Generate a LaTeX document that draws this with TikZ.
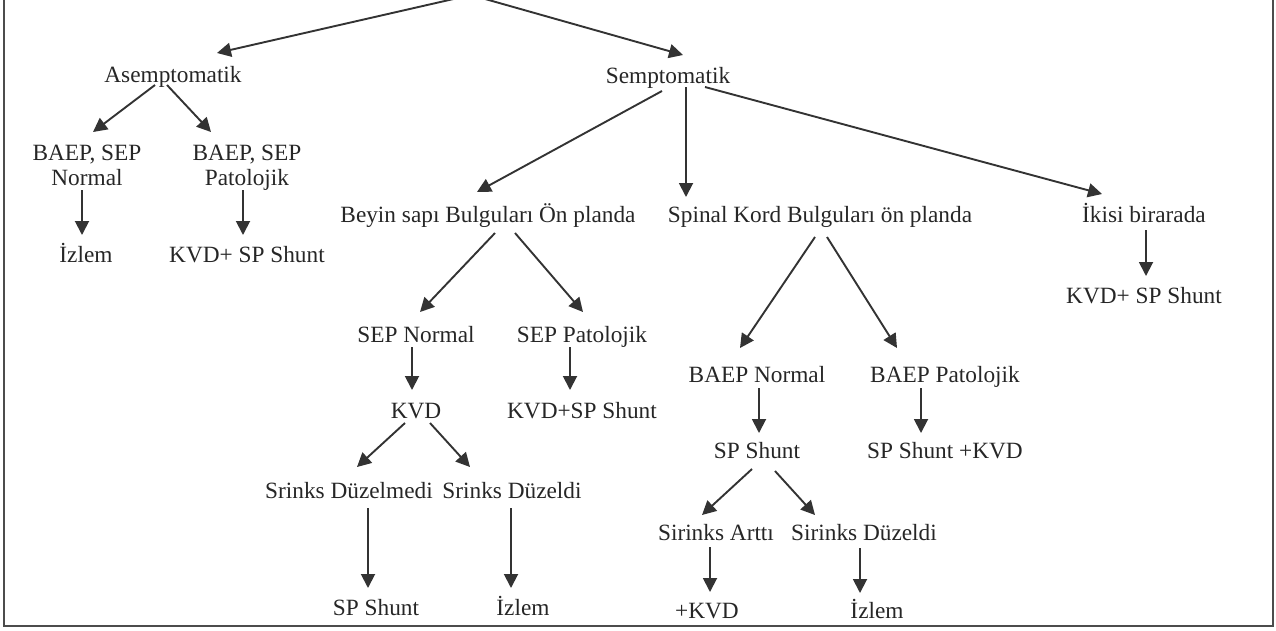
\documentclass[tikz,border=0pt]{standalone}
\usepackage{fontspec}
\setmainfont{Liberation Serif}
\usetikzlibrary{arrows.meta,calc}
\begin{document}
\begin{tikzpicture}[x=1pt,y=-1pt,
  lbl/.style={inner sep=0pt, anchor=base, font=\fontsize{23.3}{24.5}\selectfont, text=black!85},
  con/.style={line width=1.9pt, draw=black!80, -{Triangle[length=14pt,width=14pt]}},
  frame/.style={line width=2.6pt, draw=black!70}]
\useasboundingbox (0,0) rectangle (1276,630);
\clip (0,0) rectangle (1276,630);
\draw[frame] (4,-10) -- (4,626) -- (1273,626) -- (1273,-10);

% nodes
\node[lbl] (asemp) at (173,82) {Asemptomatik};
\node[lbl] (semp) at (668,83) {Semptomatik};
\node[lbl,anchor=north,align=center] (bsn) at (87,145) {BAEP, SEP\\Normal};
\node[lbl,anchor=north,align=center] (bsp) at (247,145) {BAEP, SEP\\Patolojik};
\node[lbl] (iz1) at (86,262) {İzlem};
\node[lbl] (ks1) at (247,262) {KVD+ SP Shunt};
\node[lbl] (beyin) at (488,222) {Beyin sapı Bulguları Ön planda};
\node[lbl] (spinal) at (820,222) {Spinal Kord Bulguları ön planda};
\node[lbl] (ikisi) at (1144,222) {İkisi birarada};
\node[lbl] (ks2) at (1144,303) {KVD+ SP Shunt};
\node[lbl] (sepn) at (416,342) {SEP Normal};
\node[lbl] (sepp) at (582,342) {SEP Patolojik};
\node[lbl] (kvd) at (416,418) {KVD};
\node[lbl] (ks3) at (582,418) {KVD+SP Shunt};
\node[lbl] (srn) at (349,498) {Srinks Düzelmedi};
\node[lbl] (srd) at (512,498) {Srinks Düzeldi};
\node[lbl] (sp1) at (376,615) {SP Shunt};
\node[lbl] (iz2) at (523,615) {İzlem};
\node[lbl] (bn) at (757,382) {BAEP Normal};
\node[lbl] (bp) at (945,382) {BAEP Patolojik};
\node[lbl] (sp2) at (757,458) {SP Shunt};
\node[lbl] (spk) at (945,458) {SP Shunt +KVD};
\node[lbl] (sa) at (716,540) {Sirinks Arttı};
\node[lbl] (sd) at (864,540) {Sirinks Düzeldi};
\node[lbl] (pk) at (707,618) {+KVD};
\node[lbl] (iz3) at (877,618) {İzlem};

\coordinate (root) at (471,-5);

% connectors
\draw[con] (root) -- ($(asemp.base)+(44,-29)$);
\draw[con] (root) -- ($(semp.base)+(15,-28)$);

\draw[con] ($(asemp.base)+(-18,3)$) -- ($(bsn.north)+(6,-13)$);
\draw[con] ($(asemp.base)+(-6,3)$) -- ($(bsp.north)+(-36,-13)$);
\draw[con] ($(bsn.north)+(-5,45)$) -- ($(iz1.base)+(-4,-27)$);
\draw[con] ($(bsp.north)+(-4,45)$) -- ($(ks1.base)+(-4,-27)$);

\draw[con] ($(semp.base)+(-6,8)$) -- ($(beyin.base)+(-11,-30)$);
\draw[con] ($(semp.base)+(18,4)$) -- ($(spinal.base)+(-134,-25)$);
\draw[con] ($(semp.base)+(37,4)$) -- ($(ikisi.base)+(-42,-28)$);
\draw[con] ($(ikisi.base)+(2,8)$) -- ($(ks2.base)+(2,-27)$);

\draw[con] ($(beyin.base)+(7,11)$) -- ($(sepn.base)+(4,-30)$);
\draw[con] ($(beyin.base)+(27,11)$) -- ($(sepp.base)+(1,-30)$);
\draw[con] ($(sepn.base)+(-4,5)$) -- ($(kvd.base)+(-4,-28)$);
\draw[con] ($(sepp.base)+(-12,5)$) -- ($(ks3.base)+(-12,-28)$);
\draw[con] ($(kvd.base)+(-11,5)$) -- ($(srn.base)+(8,-31)$);
\draw[con] ($(kvd.base)+(14,5)$) -- ($(srd.base)+(-42,-31)$);
\draw[con] ($(srn.base)+(19,10)$) -- ($(sp1.base)+(-8,-27)$);
\draw[con] ($(srd.base)+(-1,10)$) -- ($(iz2.base)+(-12,-27)$);

\draw[con] ($(spinal.base)+(-5,15)$) -- ($(bn.base)+(-17,-34)$);
\draw[con] ($(spinal.base)+(7,15)$) -- ($(bp.base)+(-48,-34)$);
\draw[con] ($(bn.base)+(2,6)$) -- ($(sp2.base)+(2,-25)$);
\draw[con] ($(bp.base)+(-24,6)$) -- ($(spk.base)+(-24,-25)$);
\draw[con] ($(sp2.base)+(-5,11)$) -- ($(sa.base)+(-14,-25)$);
\draw[con] ($(sp2.base)+(18,13)$) -- ($(sd.base)+(-49,-25)$);
\draw[con] ($(sa.base)+(-6,7)$) -- ($(pk.base)+(3,-26)$);
\draw[con] ($(sd.base)+(-4,8)$) -- ($(iz3.base)+(-17,-25)$);
\end{tikzpicture}
\end{document}
